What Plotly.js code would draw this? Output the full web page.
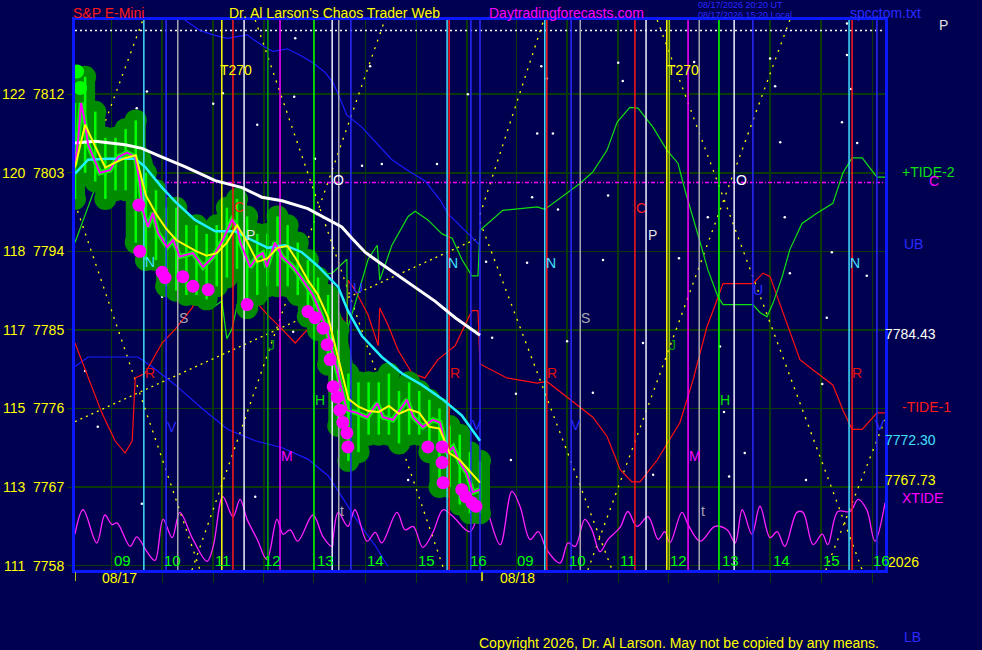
<!DOCTYPE html>
<html>
<head>
<meta charset="utf-8">
<script src="https://cdn.plot.ly/plotly-3.0.1.min.js"></script>
<style>
  html, body { margin: 0; padding: 0; background: #000050; }
  #chart { width: 982px; height: 650px; }
</style>
</head>
<body>
<div id="chart"></div>
<script>
// x = hours since 08:15 on 08/17 (two 8h sessions), y = S&P E-mini price
const yLo = 7757.5, yHi = 7820.5

const gridHours = [0.72, 1.72, 2.73, 3.73, 4.72, 5.74, 6.75, 7.74, 8.72, 9.72, 10.73, 11.72, 12.72, 13.73, 14.74, 15.75]
const hourLabels = ['09', '10', '11', '12', '13', '14', '15', '16', '09', '10', '11', '12', '13', '14', '15', '16']
const hourLabelX = [0.93, 1.92, 2.92, 3.91, 4.94, 5.94, 6.95, 7.98, 8.89, 9.92, 10.92, 11.93, 12.94, 13.95, 14.95, 15.94]
const priceTicks = [7758, 7767, 7776, 7785, 7794, 7803, 7812]
const priceTickText = ['111\u00a0\u00a07758', '113\u00a0\u00a07767', '115\u00a0\u00a07776', '117\u00a0\u00a07785', '118\u00a0\u00a07794', '120\u00a0\u00a07803', '122\u00a0\u00a07812']

// price bars (day 1)
const barX = [0, 0.2, 0.4, 0.6, 0.8, 1, 1.2, 1.4, 1.6, 1.8, 2, 2.2, 2.4, 2.6, 2.8, 3, 3.2, 3.4, 3.6, 3.8, 4, 4.2, 4.4, 4.6, 4.8, 5, 5.2, 5.4, 5.6, 5.8, 6, 6.2, 6.4, 6.6, 6.8, 7, 7.2, 7.4, 7.6, 7.8, 8]
const smooth = [7803.6, 7808.5, 7806.0, 7803.6, 7804.2, 7804.7, 7805.0, 7800.4, 7798.3, 7796.6, 7795.3, 7794.6, 7794.0, 7793.5, 7793.8, 7795.0, 7797.0, 7795.1, 7792.8, 7793.2, 7794.4, 7794.6, 7792.8, 7790.7, 7789.0, 7786.4, 7781.9, 7777.1, 7776.2, 7775.7, 7775.6, 7776.3, 7775.4, 7775.9, 7775.5, 7773.9, 7773.7, 7770.9, 7770.1, 7768.8, 7767.5]
const barHi = [7811, 7814, 7810, 7807, 7807, 7808, 7809, 7803, 7801, 7799, 7799, 7797, 7797, 7796, 7797, 7799, 7800, 7798, 7796, 7796, 7798, 7797, 7795, 7793, 7791, 7789, 7785, 7780, 7779, 7779, 7779, 7780, 7778, 7779, 7778, 7777, 7776, 7774, 7773, 7771, 7770]
const barLo = [7800, 7803, 7802, 7800, 7801, 7801, 7795, 7793, 7793, 7790, 7789.5, 7789, 7789, 7788.5, 7790, 7791, 7792, 7787.5, 7789, 7790, 7790, 7790, 7789, 7786.5, 7785, 7781, 7774, 7770, 7771, 7773, 7773, 7773, 7772, 7773, 7773, 7771, 7767, 7767, 7765, 7764, 7764]

const closeX = [0, 0.06, 0.12, 0.18, 0.26, 0.36, 0.49, 0.69, 0.85, 1.03, 1.19, 1.28, 1.34, 1.44, 1.54, 1.64, 1.82, 1.94, 2.07, 2.33, 2.53, 2.73, 2.92, 3.10, 3.20, 3.26, 3.46, 3.60, 3.71, 3.79, 3.95, 4.09, 4.31, 4.50, 4.70, 4.98, 5.18, 5.37, 5.57, 5.77, 5.97, 6.08, 6.28, 6.56, 6.68, 6.87, 7.07, 7.21, 7.35, 7.47, 7.60, 7.74, 7.86, 8.00]
const closeY = [7803.9, 7806.7, 7811.0, 7809.3, 7806.2, 7804.8, 7803.0, 7803.3, 7804.8, 7805.3, 7804.8, 7801.9, 7798.7, 7796.8, 7798.4, 7796.1, 7794.5, 7795.3, 7793.4, 7793.8, 7792.2, 7793.4, 7795.3, 7797.6, 7796.8, 7795.1, 7792.2, 7793.4, 7793.8, 7792.2, 7795.0, 7793.4, 7792.2, 7790.7, 7789.0, 7785.0, 7780.4, 7775.8, 7775.5, 7775.0, 7776.6, 7775.0, 7774.7, 7777.0, 7775.0, 7773.9, 7774.7, 7774.4, 7770.9, 7771.6, 7769.8, 7768.6, 7766.4, 7766.7]

const lowDotX = [1.26, 1.28, 1.72, 1.78, 2.13, 2.33, 2.63, 3.40, 4.60, 4.74, 4.90, 4.98, 5.04, 5.10, 5.18, 5.23, 5.29, 5.37, 5.39, 6.97, 7.25, 7.25, 7.27, 7.64, 7.72, 7.84, 7.92]
const lowDotY = [7799.3, 7794.0, 7791.6, 7791.0, 7791.1, 7790.0, 7789.6, 7787.9, 7787.1, 7786.4, 7785.2, 7783.3, 7781.6, 7778.5, 7777.3, 7775.8, 7774.4, 7773.2, 7771.6, 7771.6, 7771.6, 7769.8, 7767.5, 7766.7, 7765.9, 7765.2, 7764.8]
const openDotX = [0.04, 0.10]
const openDotY = [7814.6, 7812.7]

const cyanX = [0, 0.26, 0.65, 1.19, 1.38, 1.72, 1.98, 2.37, 2.77, 3.16, 3.42, 3.81, 4.15, 4.48, 4.80, 5.20, 5.39, 5.67, 6.06, 6.46, 6.85, 7.25, 7.64, 8.00]
const cyanY = [7802.9, 7804.5, 7804.6, 7804.6, 7803.7, 7801.3, 7799.7, 7797.6, 7796.3, 7796.3, 7795.5, 7794.4, 7794.7, 7793.9, 7792.3, 7789.9, 7787.2, 7784.3, 7781.9, 7780.0, 7778.7, 7777.1, 7775.2, 7772.3]
const whiteX = [0, 0.40, 0.99, 1.32, 1.72, 2.17, 2.77, 3.30, 3.69, 4.09, 4.60, 5.00, 5.27, 5.47, 5.73, 6.02, 6.32, 6.72, 7.11, 7.51, 8.00]
const whiteY = [7806.4, 7806.6, 7806.2, 7805.8, 7804.8, 7803.7, 7802.1, 7801.3, 7800.2, 7799.8, 7798.9, 7797.6, 7796.8, 7795.5, 7793.9, 7792.7, 7791.5, 7789.9, 7788.3, 7786.4, 7784.4]

const ubX = [2.17, 2.47, 2.73, 3.00, 3.40, 3.69, 3.91, 4.19, 4.44, 4.70, 4.94, 5.10, 5.25, 5.37, 5.67, 5.99, 6.26, 6.62, 6.91, 7.21, 7.37, 7.70, 8.00]
const ubY = [7820.5, 7819.3, 7818.8, 7818.4, 7818.8, 7817.6, 7816.9, 7817.2, 7816.5, 7815.6, 7814.5, 7813.3, 7811.3, 7809.6, 7808.2, 7806.2, 7804.5, 7803.1, 7802.1, 7799.9, 7798.3, 7796.4, 7794.7]
const lbX = [0, 0.26, 0.65, 1.24, 1.52, 1.98, 2.51, 3.02, 3.56, 4.09, 4.60, 5.00, 5.27, 5.59, 5.93, 6.18]
const lbY = [7780.8, 7781.9, 7781.9, 7781.9, 7780.8, 7778.7, 7776.0, 7773.6, 7772.3, 7771.5, 7770.2, 7768.3, 7765.9, 7763.0, 7760.3, 7757.9]

// +TIDE-2 (green) and -TIDE-1 (red)
const tidePlusX = [0, 0.36, 0.55, 0.83, 1.09, 1.28, 1.48, 1.78, 2.07, 2.37, 2.51, 2.71, 2.90, 3.00, 3.10, 3.22, 3.42, 3.75, 4.09, 4.48, 4.74, 5.08, 5.37, 5.38, 5.59, 5.79, 5.97, 6.02, 6.26, 6.58, 6.72, 6.97, 7.25, 7.45, 7.64, 7.84, 7.96, 8.00, 8.45, 9.13, 9.28, 9.98, 10.23, 10.51, 10.71, 10.96, 11.12, 11.42, 11.69, 11.91, 12.05, 12.21, 12.35, 12.50, 12.70, 12.80, 13.39, 13.53, 13.67, 13.79, 13.97, 14.12, 14.36, 14.66, 14.97, 15.17, 15.35, 15.55, 15.84, 16.00]
const tidePlusY = [7795.0, 7800.7, 7803.3, 7806.4, 7807.1, 7806.2, 7803.3, 7798.7, 7794.2, 7790.7, 7789.1, 7787.5, 7788.3, 7784.0, 7785.1, 7788.3, 7791.2, 7792.3, 7792.3, 7792.3, 7791.2, 7791.5, 7793.1, 7785.1, 7789.1, 7793.1, 7794.7, 7790.7, 7794.7, 7798.0, 7798.6, 7797.6, 7796.0, 7795.5, 7793.1, 7791.2, 7791.2, 7796.4, 7798.7, 7799.1, 7798.8, 7801.8, 7803.1, 7805.6, 7808.8, 7810.5, 7810.4, 7808.2, 7805.6, 7804.1, 7801.0, 7797.9, 7795.0, 7791.9, 7788.8, 7787.9, 7787.9, 7787.0, 7786.5, 7788.1, 7791.1, 7794.2, 7797.2, 7798.4, 7799.5, 7803.0, 7804.7, 7804.7, 7802.5, 7802.5]
const tideMinusX = [0, 0.26, 0.53, 0.79, 0.99, 1.13, 1.18, 1.19, 1.38, 1.72, 1.98, 2.31, 2.51, 2.71, 2.90, 3.02, 3.16, 3.30, 3.56, 3.81, 4.09, 4.35, 4.60, 4.88, 5.27, 5.37, 5.39, 5.53, 5.79, 5.99, 6.02, 6.18, 6.38, 6.66, 6.91, 7.17, 7.51, 7.84, 7.96, 8.00, 8.53, 9.13, 9.32, 9.84, 10.23, 10.51, 10.77, 11.00, 11.16, 11.50, 11.75, 11.95, 12.21, 12.35, 12.48, 12.68, 12.80, 13.39, 13.59, 13.73, 13.87, 14.06, 14.32, 14.58, 14.97, 15.17, 15.35, 15.55, 15.84, 16.00]
const tideMinusY = [7783.5, 7779.5, 7775.5, 7772.3, 7770.9, 7772.3, 7777.6, 7779.5, 7780.0, 7783.5, 7785.1, 7787.5, 7789.6, 7790.4, 7789.6, 7793.9, 7794.4, 7791.5, 7788.3, 7786.7, 7785.1, 7783.5, 7785.1, 7787.2, 7786.4, 7785.1, 7790.7, 7789.6, 7786.7, 7783.2, 7787.5, 7785.6, 7782.7, 7780.0, 7779.5, 7781.6, 7783.2, 7787.2, 7787.2, 7781.1, 7779.5, 7778.9, 7779.1, 7776.8, 7775.0, 7772.8, 7769.0, 7767.6, 7767.6, 7770.1, 7772.4, 7774.4, 7779.3, 7782.4, 7785.3, 7788.4, 7790.3, 7790.3, 7791.5, 7791.1, 7788.8, 7785.8, 7781.6, 7780.4, 7778.7, 7775.8, 7773.6, 7773.6, 7775.5, 7775.5]

// XTIDE oscillator along the bottom
const xtideX = [0, 0.16, 0.43, 0.59, 0.73, 0.83, 1.09, 1.22, 1.42, 1.58, 1.74, 1.92, 2.07, 2.33, 2.61, 2.73, 2.92, 3.12, 3.26, 3.40, 3.60, 3.79, 3.99, 4.11, 4.25, 4.40, 4.70, 4.90, 5.08, 5.10, 5.20, 5.39, 5.53, 5.77, 5.93, 6.06, 6.36, 6.52, 6.68, 6.87, 7.07, 7.27, 7.47, 7.80, 8.08, 8.20, 8.40, 8.63, 8.79, 8.99, 9.15, 9.32, 9.58, 9.74, 9.88, 10.07, 10.21, 10.37, 10.53, 10.77, 10.92, 11.10, 11.32, 11.52, 11.65, 11.75, 11.99, 12.11, 12.35, 12.64, 12.88, 13.04, 13.18, 13.37, 13.53, 13.73, 13.87, 14.02, 14.26, 14.38, 14.58, 14.76, 14.87, 15.07, 15.31, 15.47, 15.64, 15.80, 16.00]
const xtideY = [7761.6, 7764.4, 7760.6, 7763.8, 7762.7, 7762.9, 7760.2, 7761.3, 7759.6, 7758.6, 7763.3, 7761.2, 7764.1, 7761.0, 7758.5, 7760.2, 7765.9, 7763.6, 7765.6, 7763.3, 7761.0, 7758.7, 7763.3, 7761.6, 7762.1, 7760.8, 7763.8, 7761.3, 7760.2, 7761.2, 7764.1, 7762.5, 7764.4, 7760.8, 7761.8, 7760.6, 7764.1, 7762.1, 7762.5, 7760.1, 7761.8, 7764.4, 7763.6, 7761.9, 7765.8, 7763.3, 7760.4, 7766.5, 7764.8, 7761.0, 7761.9, 7759.8, 7758.3, 7760.6, 7760.2, 7763.3, 7762.1, 7759.6, 7761.0, 7762.4, 7764.2, 7762.5, 7763.6, 7761.0, 7761.9, 7760.6, 7764.1, 7762.7, 7760.8, 7762.5, 7762.1, 7760.6, 7764.4, 7761.6, 7764.8, 7761.2, 7761.9, 7760.2, 7764.1, 7764.1, 7760.4, 7761.6, 7760.4, 7764.2, 7764.2, 7765.6, 7764.4, 7760.8, 7765.2]

// dotted time/price lattice (segment ends)
const latX0 = [0, 0, 2.31, 3.56, 8.0, 8.0, 10.13, 11.50, 14.83]
const latY0 = [7799.5, 7799.5, 7757.5, 7820.5, 7798.2, 7797.4, 7757.5, 7820.5, 7757.5]
const latX1 = [1.34, 2.47, 6.12, 7.29, 9.26, 10.61, 14.12, 15.55, 16.0]
const latY1 = [7820.5, 7757.5, 7820.5, 7757.5, 7820.5, 7757.5, 7820.5, 7757.5, 7774.7]
const trendX = [0, 8.0]
const trendY = [7774.5, 7795.6]
const topLevel = 7819.3
const tideLevel = 7801.9

// vertical timing lines by colour
const vLines = [
  ['#40e0ff', [1.36, 7.35, 9.28, 15.29]],
  ['#2a2aff', [1.80, 5.45, 7.82, 8.00, 9.80, 13.39, 15.84]],
  ['#a8a8b0', [2.03, 5.21, 9.98, 12.33]],
  ['#ffff00', [2.90, 11.69]],
  ['#ff1a1a', [3.12, 7.39, 9.32, 11.06, 15.35]],
  ['#f0f0ff', [3.34, 5.08, 11.28, 13.02]],
  ['#00b000', [3.81]],
  ['#a0c000', [11.74]],
  ['#ff00ff', [4.05, 12.11]],
  ['#00ff00', [4.72, 12.72]]
]

const starX = [4.35, 2.73, 3.60, 1.03, 5.83, 6.06, 5.67, 7.15, 4.31, 1.72, 0.45, 1.32, 3.56, 6.58, 5.79, 6.87, 0.20, 7.76, 4.74, 1.42, 1.22, 2.92, 4.33, 9.13, 9.44, 9.03, 9.54, 10.53, 10.43, 8.93, 8.12, 8.24, 9.72, 11.22, 8.71, 10.23, 8.61, 11.42, 12.92, 13.23, 12.82, 12.74, 14.85, 14.95, 14.12, 14.02, 13.93, 15.15, 15.45, 15.64, 14.76, 14.44, 12.50, 11.93, 10.73, 10.82, 12.23, 13.73, 13.83, 15.25, 15.25, 15.33, 9.21, 9.32]
const starY = [7818.4, 7810.9, 7808.5, 7795.5, 7815.2, 7804.0, 7803.8, 7804.0, 7784.8, 7788.8, 7773.9, 7765.1, 7765.9, 7767.8, 7777.1, 7772.6, 7780.3, 7812.0, 7804.6, 7812.3, 7810.4, 7812.1, 7811.7, 7807.5, 7807.5, 7800.2, 7798.8, 7800.4, 7793.0, 7792.7, 7792.8, 7784.1, 7783.7, 7783.5, 7777.7, 7777.8, 7770.1, 7768.4, 7768.2, 7770.9, 7775.6, 7783.1, 7786.4, 7793.9, 7791.5, 7797.9, 7806.5, 7808.8, 7806.4, 7791.2, 7778.8, 7767.8, 7797.9, 7793.2, 7815.6, 7813.5, 7815.7, 7816.1, 7812.9, 7820.1, 7816.5, 7812.6, 7815.2, 7813.8]

// letter marks inside the plot
const markText = ['T270', 'T270', 'O', 'O', 'C', 'C', 'P', 'P', 'N', 'N', 'N', 'N', 'S', 'S', 'R', 'R', 'R', 'R', 'J', 'J', 'H', 'H', 'M', 'M', 'V', 'V', 'V', 'V', 'U', 'U', 't', 't']
const markX = [3.18, 12.01, 5.20, 13.16, 3.24, 11.18, 3.46, 11.40, 1.48, 7.47, 9.40, 15.41, 2.15, 10.09, 1.48, 7.51, 9.42, 15.45, 3.89, 11.81, 4.84, 12.84, 4.19, 12.25, 1.92, 7.94, 9.90, 15.90, 5.59, 13.49, 5.27, 12.40]
const markY = [7814.75, 7814.75, 7802.2, 7802.2, 7799.1, 7799.0, 7795.9, 7795.9, 7792.8, 7792.7, 7792.7, 7792.7, 7786.4, 7786.4, 7780.1, 7780.1, 7780.1, 7780.1, 7783.3, 7783.3, 7777.0, 7777.0, 7770.6, 7770.6, 7773.9, 7774.1, 7774.1, 7774.1, 7789.8, 7789.6, 7764.3, 7764.3]
const markColor = ['#ffff00', '#ffff00', '#ffffff', '#ffffff', '#ff2020', '#ff2020', '#e0e0e0', '#e0e0e0', '#40e0ff', '#40e0ff', '#40e0ff', '#40e0ff', '#a8a8b0', '#a8a8b0', '#e01010', '#e01010', '#e01010', '#e01010', '#00a000', '#00a000', '#00e000', '#00e000', '#ff00ff', '#ff00ff', '#2a2aff', '#2a2aff', '#2a2aff', '#2a2aff', '#2a2aff', '#2a2aff', '#a8a8b0', '#a8a8b0']

const FONT = 'Liberation Sans, Arial, sans-serif'

function segments(x0s, y0s, x1s, y1s) {
  const x = [], y = []
  for (let i = 0; i < x0s.length; i++) {
    x.push(x0s[i], x1s[i], null)
    y.push(y0s[i], y1s[i], null)
  }
  return { x, y }
}

const traces = []

traces.push({ x: starX, y: starY, mode: 'markers', marker: { color: '#ffffff', size: 2.5 } })

const lat = segments(latX0, latY0, latX1, latY1)
traces.push({ x: lat.x, y: lat.y, mode: 'lines', line: { color: '#ffff00', width: 1.3, dash: '2px,6px' } })
traces.push({ x: trendX, y: trendY, mode: 'lines', line: { color: '#ffff00', width: 1.3, dash: '2px,4px' } })
traces.push({ x: [0, 16], y: [topLevel, topLevel], mode: 'lines', line: { color: '#ffffff', width: 1.5, dash: '2px,3px' } })
traces.push({ x: [0, 16], y: [tideLevel, tideLevel], mode: 'lines', line: { color: '#ff00ff', width: 1.5, dash: '4px,2px,1px,2px' } })

traces.push({ x: ubX, y: ubY, mode: 'lines', line: { color: '#1a1aff', width: 1.2 } })
traces.push({ x: lbX, y: lbY, mode: 'lines', line: { color: '#1a1aff', width: 1.2 } })

traces.push({ x: tideMinusX, y: tideMinusY, mode: 'lines', line: { color: '#ff1010', width: 1.2 } })
traces.push({ x: tidePlusX, y: tidePlusY, mode: 'lines', line: { color: '#10e010', width: 1.2 } })
traces.push({ x: xtideX, y: xtideY, mode: 'lines', line: { color: '#ff20ff', width: 1.3, shape: 'spline' } })

// dark green blob round the price bars
const hl = segments(barX, barLo, barX, barHi)
traces.push({ x: barX, y: smooth, mode: 'lines', line: { color: '#008c00', width: 26, shape: 'spline' } })
traces.push({ x: hl.x, y: hl.y, mode: 'lines', line: { color: '#008c00', width: 20 } })
traces.push({ x: barX.concat(barX), y: barHi.concat(barLo), mode: 'markers', marker: { color: '#008c00', size: 22 } })
traces.push({ x: hl.x, y: hl.y, mode: 'lines', line: { color: '#00ff00', width: 2.5 } })
traces.push({ x: closeX, y: closeY, mode: 'lines', line: { color: '#00ff00', width: 5 } })
traces.push({ x: openDotX, y: openDotY, mode: 'markers', marker: { color: '#00ff00', size: 14 } })

for (const [color, xs] of vLines) {
  const v = segments(xs, xs.map(() => yLo), xs, xs.map(() => yHi))
  traces.push({ x: v.x, y: v.y, mode: 'lines', line: { color, width: 1.5 } })
}

traces.push({ x: whiteX, y: whiteY, mode: 'lines', line: { color: '#ffffff', width: 3 } })
traces.push({ x: cyanX, y: cyanY, mode: 'lines', line: { color: '#20f0ff', width: 2.5 } })
traces.push({ x: closeX, y: closeY, mode: 'lines', line: { color: '#ff00ff', width: 2 } })
traces.push({ x: barX, y: smooth, mode: 'lines', line: { color: '#ffff00', width: 2 } })
traces.push({ x: lowDotX, y: lowDotY, mode: 'markers', marker: { color: '#ff00ff', size: 13 } })

const annotations = []
for (let i = 0; i < markText.length; i++) {
  annotations.push({ x: markX[i], y: markY[i], xref: 'x', yref: 'y', text: markText[i], showarrow: false,
    font: { family: FONT, size: 14, color: markColor[i] } })
}
for (let i = 0; i < hourLabels.length; i++) {
  annotations.push({ x: hourLabelX[i], y: 7758.6, xref: 'x', yref: 'y', text: hourLabels[i], showarrow: false,
    font: { family: FONT, size: 15, color: '#00ff00' } })
}

function note(text, x, y, color, size, anchor) {
  annotations.push({ x, y, xref: 'paper', yref: 'paper', text, showarrow: false, xanchor: anchor || 'left',
    yanchor: 'middle', borderpad: 0, font: { family: FONT, size: size || 14, color } })
}
note('S&P E-Mini', -0.004, 1.0127, '#ff1a1a')
note("Dr. Al Larson's Chaos Trader Web", 0.189, 1.0127, '#ffff00')
note('Daytradingforecasts.com', 0.51, 1.0127, '#ff00ff')
note('08/17/2026 20:20 UT', 0.768, 1.028, '#2a2aff', 9)
note('08/17/2026 15:20 Local', 0.768, 1.0095, '#2a2aff', 9)
note('spcctom.txt', 0.955, 1.0127, '#2a2aff')
note('P', 1.066, 0.991, '#e0e0e0')
note('+TIDE-2', 1.02, 0.7236, '#10e010')
note('C', 1.053, 0.707, '#ff00ff')
note('UB', 1.022, 0.5927, '#2a2aff')
note('7784.43', 0.999, 0.429, '#ffffff')
note('-TIDE-1', 1.02, 0.2964, '#ff1a1a')
note('7772.30', 0.999, 0.2364, '#40e0ff')
note('7767.73', 0.999, 0.1636, '#ffff00')
note('XTIDE', 1.02, 0.131, '#ff00ff')
note('2026', 1.002, 0.0145, '#ffff00')
note('LB', 1.022, -0.1218, '#2a2aff')
note('Copyright 2026, Dr. Al Larson. May not be copied by any means.', 0.498, -0.1327, '#ffff00')
annotations.push({ x: 0.87, y: -0.0145, xref: 'x', yref: 'paper', text: '08/17', showarrow: false, yanchor: 'middle',
  font: { family: FONT, size: 14, color: '#ffff00' } })
annotations.push({ x: 8.75, y: -0.0145, xref: 'x', yref: 'paper', text: '08/18', showarrow: false, yanchor: 'middle',
  font: { family: FONT, size: 14, color: '#ffff00' } })

const shapes = [0, 8.04].map(h => ({
  type: 'line', xref: 'x', yref: 'paper', x0: h, x1: h, y0: -0.004, y1: -0.02,
  line: { color: '#ffff00', width: 1.5 }
}))

const layout = {
  width: 982,
  height: 650,
  paper_bgcolor: '#000050',
  plot_bgcolor: '#000050',
  margin: { l: 75, r: 97, t: 20, b: 80 },
  showlegend: false,
  xaxis: {
    range: [0, 16],
    tickvals: gridHours,
    showticklabels: false,
    ticks: 'outside',
    ticklen: 10,
    tickcolor: '#0a3a0a',
    showgrid: true,
    gridcolor: '#0a3a0a',
    gridwidth: 1.5,
    zeroline: false,
    showline: true,
    linecolor: '#0a1aff',
    linewidth: 3,
    mirror: true
  },
  yaxis: {
    range: [yLo, yHi],
    tickvals: priceTicks,
    ticktext: priceTickText,
    tickfont: { family: FONT, size: 14, color: '#ffff00' },
    ticks: 'outside',
    ticklen: 5,
    tickcolor: '#0a3a0a',
    showgrid: true,
    gridcolor: '#0a3a0a',
    gridwidth: 1.5,
    zeroline: false,
    showline: true,
    linecolor: '#0a1aff',
    linewidth: 3,
    mirror: true
  },
  annotations,
  shapes
}

Plotly.newPlot('chart', traces, layout, { displayModeBar: false, staticPlot: true })
</script>
</body>
</html>
